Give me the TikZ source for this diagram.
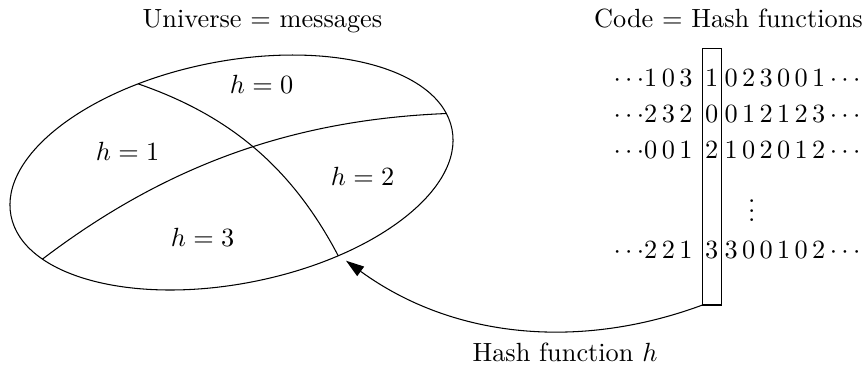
\documentclass[tikz,border=0pt]{standalone}
\usetikzlibrary{arrows.meta}
\begin{document}
\begin{tikzpicture}[x=0.38pt, y=-0.38pt, line width=0.4pt,
  lbl/.style={anchor=base, inner sep=0pt},
  leftpart/.style={anchor=base east, inner sep=0pt},
  rightpart/.style={anchor=base west, inner sep=0pt},
  universe/.style={shift={(231.5,172.5)}, rotate=11.1},
  divider/.style={shorten <=-6pt, shorten >=-6pt}]
\useasboundingbox (0,0) rectangle (864,364);

% the universe of messages, cut into four hash classes
\begin{scope}
  \clip[universe] (0,0) ellipse [x radius=85.39pt, y radius=42.29pt];
  \draw[divider] (137.3,83.3) .. controls (229.8,111.8) and (297.1,169.8) .. (339.3,257.3);
  \draw[divider] (43.3,258.3) .. controls (162.1,164.8) and (297.1,116.4) .. (448.3,113.3);
\end{scope}
\draw[universe] (0,0) ellipse [x radius=85.39pt, y radius=42.29pt];

\node[lbl] (h0) at (261.7,93) {$h=0$};
\node[lbl] (h1) at (127.5,160.5) {$h=1$};
\node[lbl] (h2) at (362.5,185) {$h=2$};
\node[lbl] (h3) at (202.5,246.5) {$h=3$};

% titles
\node[lbl] (universetitle) at (262.5,27) {Universe $=$ messages};
\node[lbl] (codetitle) at (728.5,27) {Code $=$ Hash functions};

% code words
\node[leftpart] (r1l) at (693,86) {$\cdots\!1\,0\,3$};
\node[lbl] (r1m) at (711.7,86) {$1$};
\node[rightpart] (r1r) at (724,86) {$0\,2\,3\,0\,0\,1\cdots$};

\node[leftpart] (r2l) at (693,122) {$\cdots\!2\,3\,2$};
\node[lbl] (r2m) at (711.7,122) {$0$};
\node[rightpart] (r2r) at (724,122) {$0\,1\,2\,1\,2\,3\cdots$};

\node[leftpart] (r3l) at (693,158) {$\cdots\!0\,0\,1$};
\node[lbl] (r3m) at (711.7,158) {$2$};
\node[rightpart] (r3r) at (724,158) {$1\,0\,2\,0\,1\,2\cdots$};

% vertical ellipsis, one dot per node
\node[lbl] (vd1) at (751.7,202.9) {.};
\node[lbl] (vd2) at (751.7,212.3) {.};
\node[lbl] (vd3) at (751.7,221.7) {.};

\node[leftpart] (r5l) at (693,258) {$\cdots\!2\,2\,1$};
\node[lbl] (r5m) at (711.7,258) {$3$};
\node[rightpart] (r5r) at (724,258) {$3\,0\,0\,1\,0\,2\cdots$};

% selected column = one hash function
\node[draw, inner sep=0pt, outer sep=0pt, minimum width=7.3pt, minimum height=97.55pt]
  (col) at (712.1,176.65) {};

\coordinate (tip) at (346,260.7);
\draw[-{Triangle[length=6.9pt,width=4.4pt]}] (col.south west)
  .. controls (582.6,349.4) and (455.2,340.1) .. (tip);
\node[lbl] (hashlbl) at (565,361) {Hash function $h$};
\end{tikzpicture}
\end{document}
